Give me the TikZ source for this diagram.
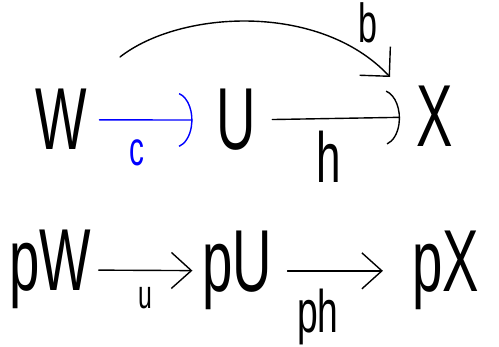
\documentclass[tikz,border=0pt]{standalone}
\usepackage{fontspec}
\usepackage{graphicx}
\setmainfont{Liberation Sans}
\usetikzlibrary{arrows.meta}
\newcommand\squeeze[1]{\scalebox{0.62}[1]{#1}}
\begin{document}
\begin{tikzpicture}[x=1pt,y=-1pt,line width=1.4pt,line cap=round,line join=round,
  obj/.style={inner sep=0pt,anchor=base,font=\fontsize{88}{90}\selectfont},
  lab/.style={inner sep=0pt,anchor=base},
  curvedtip/.style={-{Arc Barb[arc=150,length=18pt,width=56pt,line width=1.4pt]}},
  barbtip/.style={-{Straight Barb[length=20pt,width=36pt,line width=1.4pt]}}]
\useasboundingbox (0,0) rectangle (499,347);
% top row
\node[obj] (W) at (61,150) {\squeeze{W}};
\node[obj] (U) at (236,150) {\squeeze{U}};
\node[obj] (X) at (435,147) {\squeeze{X}};
% bottom row
\node[obj] (pW) at (50,291) {\squeeze{pW}};
\node[obj] (pU) at (237,292) {\squeeze{pU}};
\node[obj] (pX) at (446,292) {\squeeze{pX}};
% arrows top
\draw[blue,curvedtip,shorten <=12pt,shorten >=23pt] (W) -- (U);
\draw[curvedtip,shorten <=16pt,shorten >=16pt] (U) -- (X);
% arrows bottom
\draw[barbtip,shorten <=7pt,shorten >=9pt] (pW) -- (pU);
\draw[barbtip,shorten <=15pt,shorten >=29pt] (pU) -- (pX);
% curved arrow W to X
\coordinate (bstart) at (120,57);
\coordinate (bend) at (390,77);
\draw[-{Straight Barb[length=21pt,width=42pt,line width=1.4pt]}] (bstart) .. controls (180,10) and (320,2) .. (bend);
% labels
\node[lab,blue,font=\fontsize{48}{50}\selectfont] (c) at (137,166) {\squeeze{c}};
\node[lab,font=\fontsize{71}{72}\selectfont] (h) at (329,183) {\squeeze{h}};
\node[lab,font=\fontsize{55}{56}\selectfont] (b) at (368,43) {\squeeze{b}};
\node[lab,font=\fontsize{40}{42}\selectfont] (u) at (145,309) {\squeeze{u}};
\node[lab,font=\fontsize{60}{62}\selectfont] (ph) at (318,333) {\squeeze{ph}};
\end{tikzpicture}
\end{document}
